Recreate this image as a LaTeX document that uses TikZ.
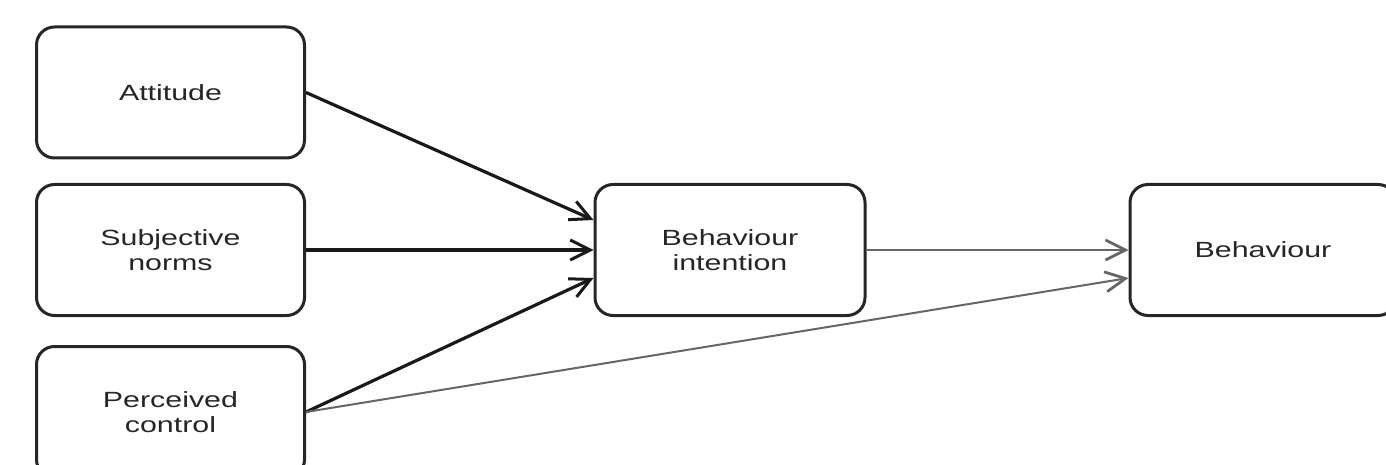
\documentclass[tikz,border=0pt]{standalone}
\usepackage{fontspec}
\setmainfont[FakeStretch=1.38]{Liberation Sans}
\usetikzlibrary{arrows.meta}
\begin{document}
\begin{tikzpicture}[x=1pt,y=-1pt,
  box/.style={draw=black!85, line width=3pt, rounded corners=18pt, fill=white,
    minimum width=268pt, minimum height=131pt, align=center,
    font=\fontsize{22}{25}\selectfont, text=black!85, inner sep=0pt},
  darrow/.style={line width=3.2pt, draw=black!90, -{Straight Barb[length=20pt,width=20pt,line width=3pt]}},
  garrow/.style={line width=2pt, draw=black!60, -{Straight Barb[length=20pt,width=20pt,line width=2.8pt]}, }]
\useasboundingbox (0,0) rectangle (1386,465);
\begin{scope}
\clip (0,0) rectangle (1386,465);
\node[box] (att) at (170.5,92.5) {Attitude};
\node[box] (sn) at (170.5,250) {Subjective\\norms};
\node[box] (pc) at (170.5,412) {Perceived\\control};
\node[box, minimum width=270pt] (bi) at (730,250) {Behaviour\\intention};
\node[box, minimum width=266pt] (b) at (1263,250) {Behaviour};
\coordinate (biA) at ([yshift=30pt]bi.west);
\coordinate (biC) at ([yshift=-28pt]bi.west);
\coordinate (bC) at ([yshift=-28pt]b.west);
\draw[darrow] (att.east) -- (biA);
\draw[darrow] (sn.east) -- (bi.west);
\draw[darrow] (pc.east) -- (biC);
\draw[garrow] (bi.east) -- (b.west);
\draw[garrow] (pc.east) -- (bC);
\end{scope}
\end{tikzpicture}
\end{document}
